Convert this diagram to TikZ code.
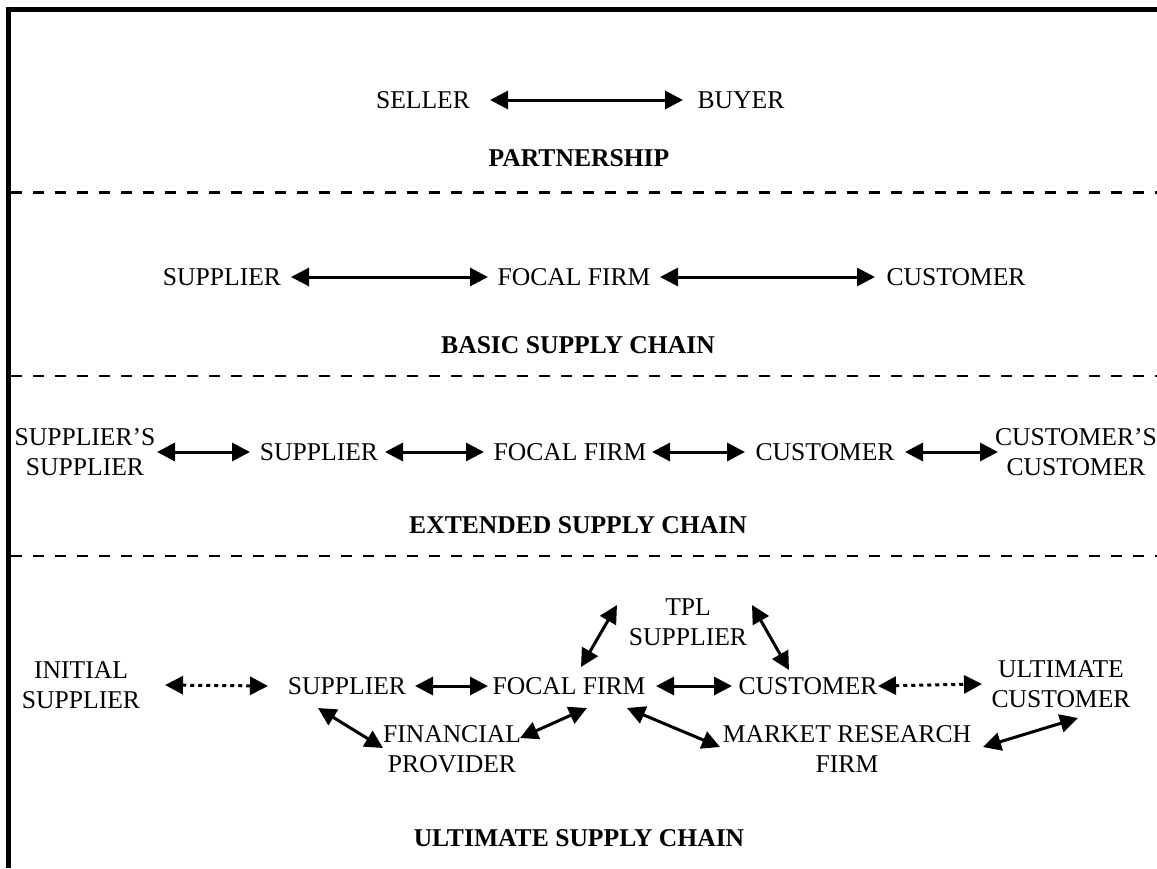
\documentclass[tikz,border=0pt]{standalone}
\usepackage{fontspec}
\setmainfont{Liberation Serif}
\usetikzlibrary{arrows.meta}
\tikzset{
  lbl/.style={inner sep=0pt, align=center, font=\fontsize{19.2pt}{22.5pt}\selectfont},
  ttl/.style={lbl, font=\fontsize{19.2pt}{22.5pt}\selectfont\bfseries},
  arr/.style={line width=2.25pt, {Triangle[length=13.5pt,width=13.5pt]}-{Triangle[length=13.5pt,width=13.5pt]}},
  darr/.style={arr, dash pattern=on 3pt off 3pt},
  sep/.style={line width=2.2pt, dash pattern=on 8.5pt off 8pt},
  frame/.style={line width=3.75pt}
}
\begin{document}
\begin{tikzpicture}[x=0.75pt,y=-0.75pt]
\useasboundingbox (0,0) rectangle (1157,868);
% frame
\draw[frame] (8.5,868) -- (8.5,9.5) -- (1157,9.5);
% separators
\coordinate (s1a) at (11,192.5); \coordinate (s1b) at (1157,192.5);
\coordinate (s2a) at (11,376); \coordinate (s2b) at (1157,376);
\coordinate (s3a) at (11,556); \coordinate (s3b) at (1157,556);
\draw[sep] (s1a) -- (s1b);
\draw[sep] (s2a) -- (s2b);
\draw[sep] (s3a) -- (s3b);

% row 1
\node[lbl] (seller) at (423,100) {SELLER};
\node[lbl] (buyer) at (741,100) {BUYER};
\node[ttl] (partner) at (579,158) {PARTNERSHIP};
\draw[arr] ([shift={(67,0)}]seller.center) -- ([shift={(-58,0)}]buyer.center);

% row 2
\node[lbl] (sup2) at (222,277) {SUPPLIER};
\node[lbl] (focal2) at (574,277) {FOCAL FIRM};
\node[lbl] (cust2) at (956,277) {CUSTOMER};
\node[ttl] (basic) at (578,345) {BASIC SUPPLY CHAIN};
\draw[arr] ([shift={(69,0)}]sup2.center) -- ([shift={(-86,0)}]focal2.center);
\draw[arr] ([shift={(86,0)}]focal2.center) -- ([shift={(-81,0)}]cust2.center);

% row 3
\node[lbl] (ss) at (85,452) {SUPPLIER’S\\SUPPLIER};
\node[lbl] (sup3) at (319,452) {SUPPLIER};
\node[lbl] (focal3) at (570,452) {FOCAL FIRM};
\node[lbl] (cust3) at (825,452) {CUSTOMER};
\node[lbl] (cc) at (1076,452) {CUSTOMER’S\\CUSTOMER};
\node[ttl] (ext) at (578,525) {EXTENDED SUPPLY CHAIN};
\draw[arr] ([shift={(72,0)}]ss.center) -- ([shift={(-69,0)}]sup3.center);
\draw[arr] ([shift={(66,0)}]sup3.center) -- ([shift={(-86,0)}]focal3.center);
\draw[arr] ([shift={(82,0)}]focal3.center) -- ([shift={(-80,0)}]cust3.center);
\draw[arr] ([shift={(80,0)}]cust3.center) -- ([shift={(-78,0)}]cc.center);

% row 4
\node[lbl] (init) at (81,685) {INITIAL\\SUPPLIER};
\node[lbl] (sup4) at (347,686) {SUPPLIER};
\node[lbl] (focal4) at (569,686) {FOCAL FIRM};
\node[lbl] (cust4) at (808,686) {CUSTOMER};
\node[lbl] (ult) at (1061,684) {ULTIMATE\\CUSTOMER};
\node[lbl] (tpl) at (688,622) {TPL\\SUPPLIER};
\node[lbl] (fin) at (452,749) {FINANCIAL\\PROVIDER};
\node[lbl] (market) at (847,749) {MARKET RESEARCH\\FIRM};
\node[ttl] (ultt) at (579,838) {ULTIMATE SUPPLY CHAIN};

\draw[darr] ([shift={(84,0)}]init.center) -- ([shift={(-79,0)}]sup4.center);
\draw[arr] ([shift={(68,0)}]sup4.center) -- ([shift={(-81,0)}]focal4.center);
\draw[arr] ([shift={(87,0)}]focal4.center) -- ([shift={(-76,0)}]cust4.center);
\draw[darr] ([shift={(70,0)}]cust4.center) -- ([shift={(-79,0)}]ult.center);

\draw[arr] ([shift={(12,-19)}]focal4.center) -- ([shift={(-71,-17)}]tpl.center);
\draw[arr] ([shift={(64,-17)}]tpl.center) -- ([shift={(-19,-16)}]cust4.center);
\draw[arr] ([shift={(-29,22)}]sup4.center) -- ([shift={(-69,-1)}]fin.center);
\draw[arr] ([shift={(68,-11)}]fin.center) -- ([shift={(18,22)}]focal4.center);
\draw[arr] ([shift={(58,22)}]focal4.center) -- ([shift={(-127,-2)}]market.center);
\draw[arr] ([shift={(136,-2)}]market.center) -- ([shift={(17,34)}]ult.center);
\end{tikzpicture}
\end{document}
